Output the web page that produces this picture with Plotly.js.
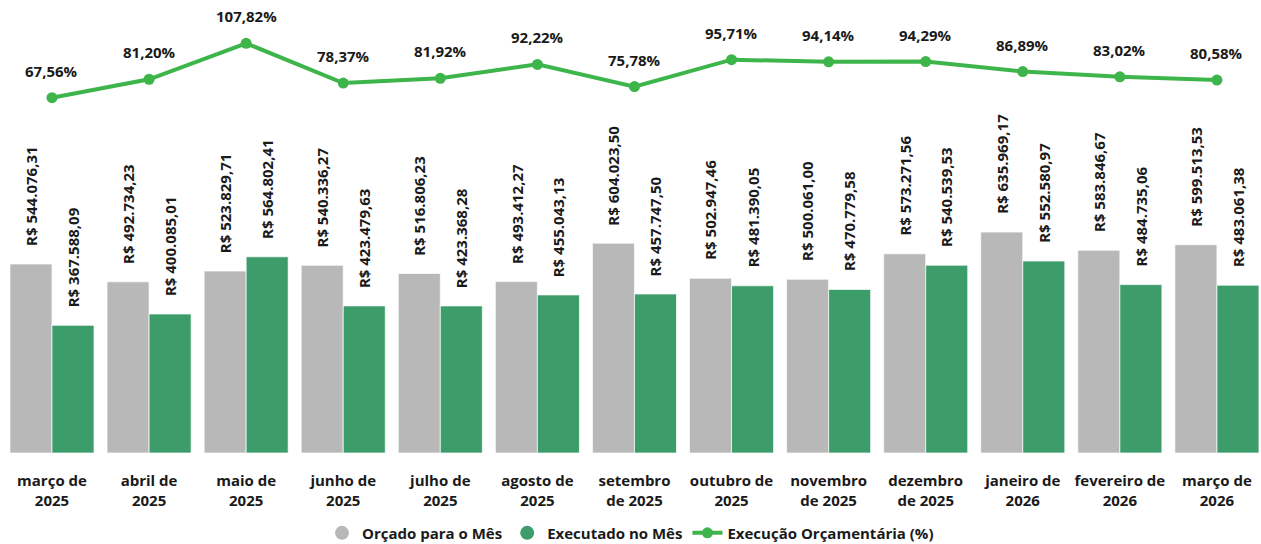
<!DOCTYPE html>
<html>
<head>
<meta charset="utf-8">
<script src="https://cdn.plot.ly/plotly-3.0.1.min.js"></script>
<style>html,body{margin:0;padding:0;background:#fff;}#chart{width:1261px;height:544px;}</style>
</head>
<body>
<div id="chart"></div>
<script>
const categories = ["março de<br>2025","abril de<br>2025","maio de<br>2025","junho de<br>2025","julho de<br>2025","agosto de<br>2025","setembro<br>de 2025","outubro de<br>2025","novembro<br>de 2025","dezembro<br>de 2025","janeiro de<br>2026","fevereiro de<br>2026","março de<br>2026"];
const orcado = [544076.31, 492734.23, 523829.71, 540336.27, 516806.23, 493412.27, 604023.50, 502947.46, 500061.00, 573271.56, 635969.17, 583846.67, 599513.53];
const executado = [367588.09, 400085.01, 564802.41, 423479.63, 423368.28, 455043.13, 457747.50, 481390.05, 470779.58, 540539.53, 552580.97, 484735.06, 483061.38];
const execucaoPct = [67.56, 81.20, 107.82, 78.37, 81.92, 92.22, 75.78, 95.71, 94.14, 94.29, 86.89, 83.02, 80.58];

const GRAY = '#B8B8B8', GREEN = '#3C9D6A', LINE = '#3DB54A';
const FONT = '"Open Sans", "Noto Sans", sans-serif';

function brl(v){
  const parts = v.toFixed(2).split('.');
  const int = parts[0].replace(/\B(?=(\d{3})+(?!\d))/g, '.');
  return 'R$ ' + int + ',' + parts[1];
}
function pct(v){ return v.toFixed(2).replace('.', ',') + '%'; }

const traces = [
  {type:'bar', x:categories, y:orcado, name:'Orçado para o Mês', showlegend:false,
   marker:{color:GRAY, line:{color:'rgba(255,255,255,0.7)', width:1}}, hoverinfo:'skip'},
  {type:'bar', x:categories, y:executado, name:'Executado no Mês', showlegend:false,
   marker:{color:GREEN, line:{color:'rgba(255,255,255,0.7)', width:1}}, hoverinfo:'skip'},
  {type:'scatter', mode:'lines+markers', x:categories, y:execucaoPct, yaxis:'y2', name:'Execução Orçamentária (%)', showlegend:false,
   line:{color:LINE, width:4}, marker:{color:LINE, size:11}, hoverinfo:'skip'},
  // legend proxies
  {type:'scatter', mode:'markers', x:[null], y:[null], name:'Orçado para o Mês', marker:{color:GRAY, size:14, symbol:'circle'}},
  {type:'scatter', mode:'markers', x:[null], y:[null], name:'Executado no Mês', marker:{color:GREEN, size:14, symbol:'circle'}},
  {type:'scatter', mode:'lines+markers', x:[null], y:[null], yaxis:'y2', name:'Execução Orçamentária (%)', line:{color:LINE, width:4}, marker:{color:LINE, size:11}}
];

const annotations = [];
categories.forEach((c, i) => {
  annotations.push({x:c, y:orcado[i], xref:'x', yref:'y', text:brl(orcado[i]), showarrow:false,
    textangle:-90, xanchor:'center', yanchor:'bottom', xshift:-21, yshift:16,
    font:{family:FONT, size:15, color:'#1a1a1a', weight:'bold'}});
  annotations.push({x:c, y:executado[i], xref:'x', yref:'y', text:brl(executado[i]), showarrow:false,
    textangle:-90, xanchor:'center', yanchor:'bottom', xshift:21, yshift:16,
    font:{family:FONT, size:15, color:'#1a1a1a', weight:'bold'}});
  annotations.push({x:c, y:execucaoPct[i], xref:'x', yref:'y2', text:pct(execucaoPct[i]), showarrow:false,
    xanchor:'center', yanchor:'bottom', yshift:15,
    font:{family:FONT, size:15, color:'#1a1a1a', weight:'bold'}});
});

const layout = {
  width:1261, height:544,
  margin:{l:0, r:0, t:0, b:91, autoexpand:false},
  paper_bgcolor:'#fff', plot_bgcolor:'#fff',
  barmode:'group', bargap:0.134, bargroupgap:0,
  font:{family:FONT, color:'#1a1a1a'},
  xaxis:{type:'category', range:[-0.5356, 12.454], automargin:false, showgrid:false, zeroline:false, showline:false,
    ticks:'', ticklabelstandoff:17, tickfont:{family:FONT, size:15, color:'#1a1a1a', weight:'bold'}, fixedrange:true},
  yaxis:{range:[0, 1304000], visible:false, automargin:false, showgrid:false, zeroline:false, fixedrange:true},
  yaxis2:{range:[-195.6, 139.9], overlaying:'y', side:'right', visible:false, automargin:false, showgrid:false, zeroline:false, fixedrange:true},
  showlegend:true,
  legend:{orientation:'h', x:0.5, xanchor:'center', yref:'container', y:0.02, yanchor:'middle',
    font:{family:FONT, size:15, color:'#1a1a1a', weight:'bold'}, itemwidth:30, tracegroupgap:0, bgcolor:'rgba(0,0,0,0)'},
  annotations:annotations
};

Plotly.newPlot('chart', traces, layout, {displayModeBar:false, staticPlot:true});
</script>
</body>
</html>
